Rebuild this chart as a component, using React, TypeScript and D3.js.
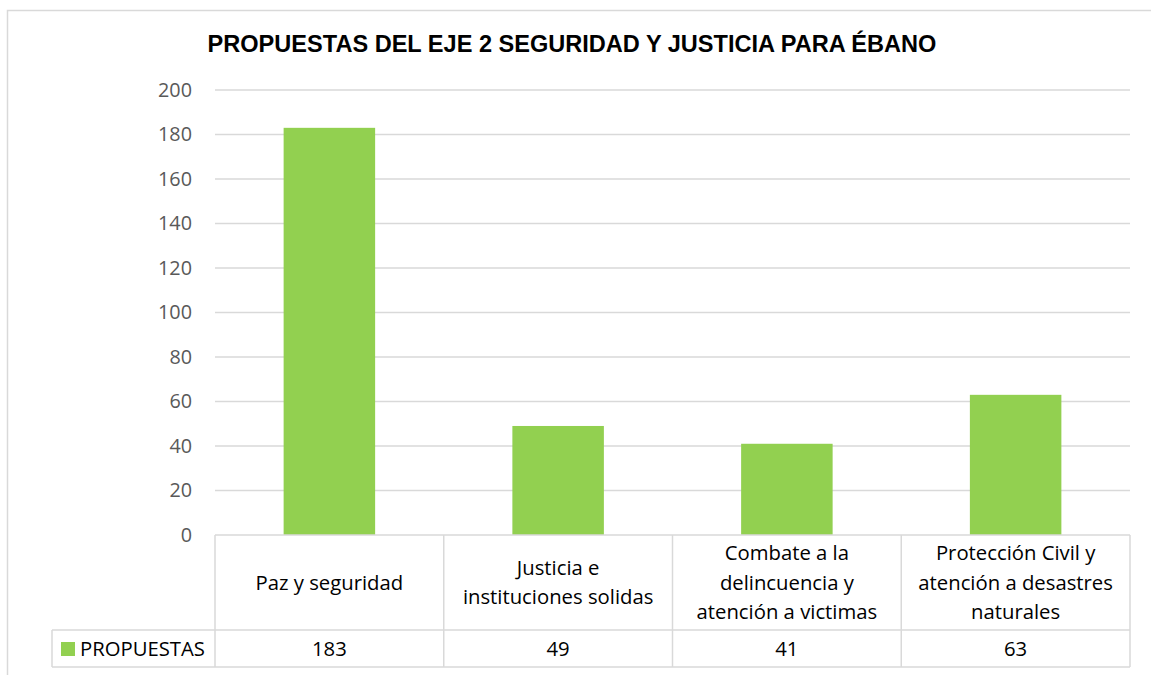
import * as d3 from "d3";
import React from "react";

const categories = [
  ["Paz y seguridad"],
  ["Justicia e", "instituciones solidas"],
  ["Combate a la", "delincuencia y", "atención a victimas"],
  ["Protección Civil y", "atención a desastres", "naturales"],
];
const propuestas = [183, 49, 41, 63];
const yTicks = [0, 20, 40, 60, 80, 100, 120, 140, 160, 180, 200];
const seriesName = "PROPUESTAS";
const title = "PROPUESTAS DEL EJE 2 SEGURIDAD Y JUSTICIA PARA ÉBANO";

const W = 1151;
const H = 675;
const left = 215;
const right = 1130;
const top = 90;
const base = 535;
const headerBottom = 630;
const rowBottom = 667;
const legendLeft = 52;

const font = "'Open Sans', sans-serif";
const grid = "#D9D9D9";
const green = "#92D050";

export default function App() {
  const idx = categories.map((_, i) => i);
  const x = d3.scaleBand<number>().domain(idx).range([left, right]).paddingInner(0).paddingOuter(0);
  const y = d3.scaleLinear().domain([0, 200]).range([base, top]);
  const bw = x.bandwidth() * 0.4;
  const lineH = 29.5;
  const headerMid = (base + headerBottom) / 2;

  return (
    <svg width={W} height={H} style={{ position: "absolute", left: 0, top: 0 }}>
      <rect x={0} y={0} width={W} height={H} fill="#fff" />
      {/* chart area border */}
      <rect x={7.5} y={10.5} width={W + 10} height={H + 10} fill="none" stroke={grid} strokeWidth={1.5} />
      <text x={572} y={52} textAnchor="middle" fontFamily="'Liberation Sans', Arial, sans-serif"
        fontWeight="bold" fontSize={23.55} fill="#000">{title}</text>

      {yTicks.map(t => (
        <g key={t}>
          {t > 0 && <line x1={left} x2={right} y1={y(t)} y2={y(t)} stroke={grid} strokeWidth={1.3} />}
          <text x={192} y={y(t)} dy="0.35em" textAnchor="end" fontFamily={font} fontSize={19.8} fill="#595959">{t}</text>
        </g>
      ))}

      {propuestas.map((v, i) => (
        <rect key={i} x={x(i)! + (x.bandwidth() - bw) / 2} y={y(v)} width={bw} height={base - y(v)} fill={green} />
      ))}

      {/* data table */}
      <g stroke={grid} strokeWidth={1.5} fill="none">
        <line x1={left} x2={right} y1={base} y2={base} />
        <line x1={legendLeft} x2={right} y1={headerBottom} y2={headerBottom} />
        <line x1={legendLeft} x2={right} y1={rowBottom} y2={rowBottom} />
        <line x1={legendLeft} x2={legendLeft} y1={headerBottom} y2={rowBottom} />
        {idx.map(i => (
          <line key={i} x1={x(i)!} x2={x(i)!} y1={base} y2={rowBottom} />
        ))}
        <line x1={right} x2={right} y1={base} y2={rowBottom} />
      </g>

      {categories.map((lines, i) => (
        <text key={i} textAnchor="middle" fontFamily={font} fontSize={20.3} fill="#000">
          {lines.map((l, j) => (
            <tspan key={j} x={x(i)! + x.bandwidth() / 2}
              y={headerMid + (j - (lines.length - 1) / 2) * lineH} dy="0.35em">{l}</tspan>
          ))}
        </text>
      ))}
      {propuestas.map((v, i) => (
        <text key={i} x={x(i)! + x.bandwidth() / 2} y={(headerBottom + rowBottom) / 2} dy="0.35em"
          textAnchor="middle" fontFamily={font} fontSize={20.3} fill="#000">{v}</text>
      ))}
      <rect x={61} y={642} width={14} height={14} fill={green} />
      <text x={80} y={(headerBottom + rowBottom) / 2} dy="0.35em" fontFamily={font} fontSize={20.3} fill="#000">{seriesName}</text>
    </svg>
  );
}
